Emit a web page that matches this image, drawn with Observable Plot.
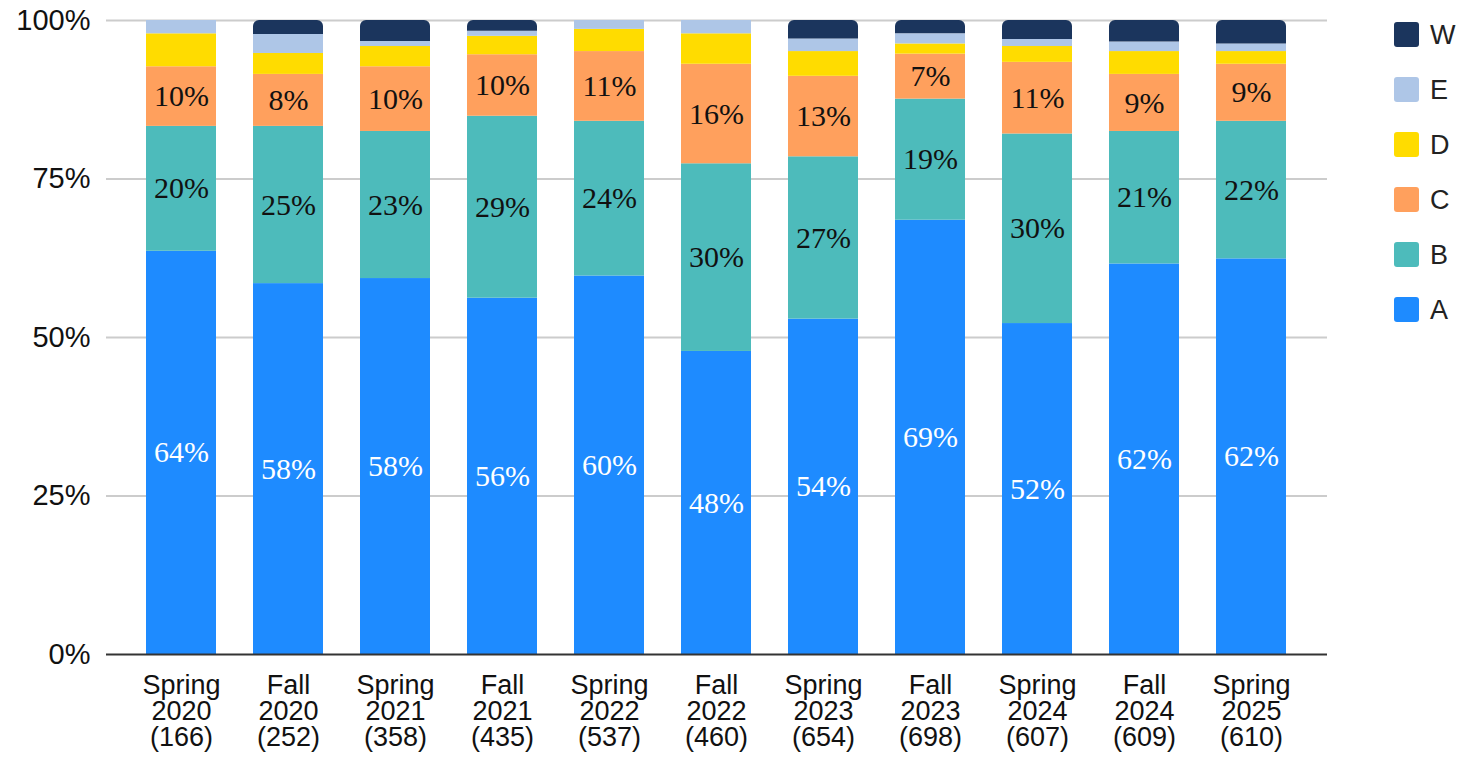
<!DOCTYPE html>
<html>
<head>
<meta charset="utf-8">
<script src="https://cdn.jsdelivr.net/npm/d3@7"></script>
<script src="https://cdn.jsdelivr.net/npm/@observablehq/plot@0.6"></script>
<style>
  html, body { margin: 0; padding: 0; background: #fff; }
  #wrap { position: relative; width: 1464px; height: 761px; }
  #legend { position: absolute; left: 1394px; top: 7px; font-family: "Liberation Sans", Arial, sans-serif; font-size: 27px; color: #222; }
  .item { display: flex; align-items: center; height: 55px; }
  .item .sw { width: 25px; height: 25px; border-radius: 3px; margin-right: 11px; }
  .item .sw + span { line-height: 26px; }
</style>
</head>
<body>
<div id="wrap"><div id="legend"></div></div>
<script>
const periods = ["Spring 2020","Fall 2020","Spring 2021","Fall 2021","Spring 2022","Fall 2022","Spring 2023","Fall 2023","Spring 2024","Fall 2024","Spring 2025"];
const counts = [166, 252, 358, 435, 537, 460, 654, 698, 607, 609, 610];
const categories = ["A","B","C","D","E","W"];
const colors = ["#1E8BFF","#4DBBBB","#FFA05D","#FFDC00","#AEC6E7","#1B355D"];

const seriesA = [63.6, 58.5, 59.3, 56.2, 59.7, 47.8, 52.9, 68.5, 52.2, 61.6, 62.4];
const seriesB = [19.7, 24.8, 23.2, 28.7, 24.4, 29.6, 25.6, 19.1, 29.9, 20.9, 21.7];
const seriesC = [9.4, 8.2, 10.2, 9.7, 11.0, 15.7, 12.7, 7.1, 11.3, 9.0, 9.0];
const seriesD = [5.2, 3.3, 3.2, 2.9, 3.5, 4.8, 3.9, 1.6, 2.5, 3.6, 2.0];
const seriesE = [2.1, 3.0, 0.8, 0.8, 1.4, 2.1, 2.0, 1.6, 1.1, 1.5, 1.2];
const seriesW = [0, 2.2, 3.3, 1.7, 0, 0, 2.9, 2.1, 3.0, 3.4, 3.7];

const labelsA = [64, 58, 58, 56, 60, 48, 54, 69, 52, 62, 62];
const labelsB = [20, 25, 23, 29, 24, 30, 27, 19, 30, 21, 22];
const labelsC = [10, 8, 10, 10, 11, 16, 13, 7, 11, 9, 9];

const yTicks = [0, 25, 50, 75, 100];

const seriesByCat = {A: seriesA, B: seriesB, C: seriesC, D: seriesD, E: seriesE, W: seriesW};
const labelsByCat = {A: labelsA, B: labelsB, C: labelsC};

const data = [];
periods.forEach((p, i) => {
  categories.forEach(c => {
    data.push({period: p, cat: c, value: seriesByCat[c][i], label: labelsByCat[c] ? labelsByCat[c][i] : null});
  });
});

const stackOpts = {x: "period", y: "value", z: "cat"};
const serif = "'Liberation Serif', 'Times New Roman', serif";

const chart = Plot.plot({
  width: 1464,
  height: 761,
  marginTop: 20,
  marginBottom: 107,
  marginLeft: 106,
  marginRight: 137,
  style: {fontFamily: "'Liberation Sans', Arial, sans-serif", fontSize: "29px", color: "#111", background: "#fff"},
  x: {domain: periods, paddingInner: 0.35, paddingOuter: 0.175, insetLeft: 19, insetRight: 20, label: null},
  y: {domain: [0, 100], label: null},
  color: {domain: categories, range: colors},
  marks: [
    Plot.ruleY(yTicks.filter(d => d > 0), {stroke: "#cccccc", strokeWidth: 2}),
    Plot.barY(data, Plot.stackY({...stackOpts, fill: "cat", fillOpacity: d => d.cat === "W" ? 0 : 1})),
    Plot.barY(data, Plot.stackY({...stackOpts, fill: "cat", fillOpacity: d => d.cat === "W" ? 1 : 0, ry1: 6})),
    Plot.text(data, Plot.stackY({...stackOpts, text: d => d.cat === "A" ? d.label + "%" : null, fill: "white", fontFamily: serif, fontSize: 30})),
    Plot.text(data, Plot.stackY({...stackOpts, text: d => (d.cat !== "A" && d.label != null) ? d.label + "%" : null, fill: "#111", fontFamily: serif, fontSize: 30})),
    Plot.ruleY([0], {stroke: "#333", strokeWidth: 2}),
    Plot.axisY({ticks: yTicks, tickFormat: d => d + "%", tickSize: 0, tickPadding: 16, fontSize: 29, fill: "#111"}),
    Plot.axisX({tickSize: 0, tickPadding: 21, fontSize: 27, lineHeight: 0.97, fill: "#111",
      tickFormat: d => { const i = periods.indexOf(d); const [s, y] = d.split(" "); return `${s}\n${y}\n(${counts[i]})`; }})
  ]
});

document.getElementById("wrap").prepend(chart);

const legend = document.getElementById("legend");
categories.slice().reverse().forEach(c => {
  const item = document.createElement("div");
  item.className = "item";
  const sw = document.createElement("div");
  sw.className = "sw";
  sw.style.background = colors[categories.indexOf(c)];
  const t = document.createElement("span");
  t.textContent = c;
  item.append(sw, t);
  legend.append(item);
});
</script>
</body>
</html>
